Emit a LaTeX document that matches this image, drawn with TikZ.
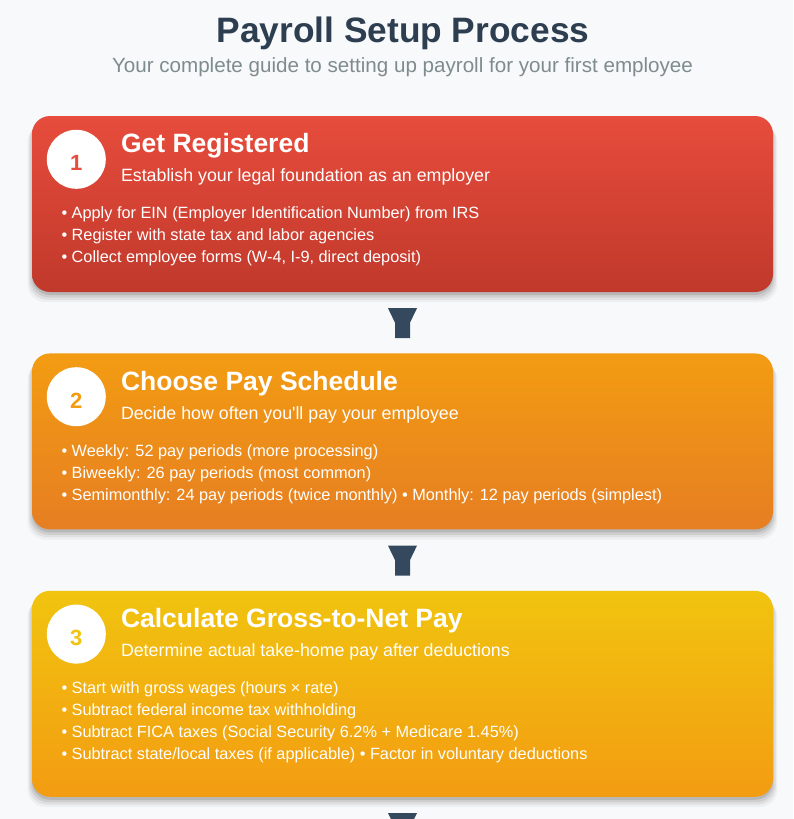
\documentclass[tikz,border=0pt]{standalone}
\usepackage{fontspec}
\setmainfont{Liberation Sans}
\usepackage{tikz}
\usetikzlibrary{positioning,calc,shadows}
\definecolor{pagebg}{HTML}{F8F9FA}
\definecolor{titlec}{HTML}{2C3E50}
\definecolor{subc}{HTML}{7F8C8D}
\definecolor{funnelc}{HTML}{34495E}
\definecolor{redtop}{HTML}{E74C3C}
\definecolor{redbot}{HTML}{C0392B}
\definecolor{orgtop}{HTML}{F39C12}
\definecolor{orgbot}{HTML}{E67E22}
\definecolor{yeltop}{HTML}{F1C40F}
\definecolor{yelbot}{HTML}{F39C12}
\tikzset{
  card/.style={rectangle, rounded corners=18pt, minimum width=741pt, inner sep=0pt,
    drop shadow={shadow xshift=0pt, shadow yshift=-9pt, shadow scale=1.012, opacity=.04, fill=black},
    drop shadow={shadow xshift=0pt, shadow yshift=-7pt, shadow scale=1.008, opacity=.06, fill=black},
    drop shadow={shadow xshift=0pt, shadow yshift=-5pt, shadow scale=1.004, opacity=.08, fill=black},
    drop shadow={shadow xshift=0pt, shadow yshift=-3pt, opacity=.10, fill=black}},
  badge/.style={circle, fill=white, minimum size=59pt, inner sep=0pt},
  funnel/.pic={\fill[funnelc] (-14.5,-14.5) -- (14.5,-14.5) -- (7.5,0) -- (7.5,15.5) -- (-7.5,15.5) -- (-7.5,0) -- cycle;}
}

\begin{document}
\begin{tikzpicture}[
    x=1pt, y=-1pt,
    node distance=61pt,
    head/.style={anchor=base west, inner sep=0pt, text=white, font=\fontsize{26.5}{30}\selectfont\bfseries},
    sub/.style={anchor=base west, inner sep=0pt, text=white, font=\fontsize{17.8}{21}\selectfont},
    item/.style={anchor=base west, inner sep=0pt, text=white, font=\fontsize{16.3}{20}\selectfont},
    num/.style={inner sep=0pt, font=\fontsize{22}{24}\selectfont\bfseries}
]
\fill[pagebg] (0,0) rectangle (793,819);
\useasboundingbox (0,0) rectangle (793,819);
\clip (0,0) rectangle (793,819);

\node[anchor=base, text=titlec, font=\fontsize{35.3}{40}\selectfont\bfseries] (title) at (403,42) {Payroll Setup Process};
\node[anchor=base, text=subc, font=\fontsize{20.6}{24}\selectfont] (subtitle) at (402.5,72) {Your complete guide to setting up payroll for your first employee};

% cards
\node[card, minimum height=176pt, top color=redtop, bottom color=redbot] (reg) at (402.5,204) {};
\node[card, minimum height=176pt, top color=orgtop, bottom color=orgbot, below=of reg] (sched) {};
\node[card, minimum height=206pt, top color=yeltop, bottom color=yelbot, below=of sched] (gross) {};

% step 1
\node[badge] (reg-c) at ($(reg.north west)+(44.5,43.5)$) {};
\node[num, text=redtop] (reg-n) at ($(reg-c)+(0,4)$) {1};
\node[head] (reg-h) at ($(reg.north west)+(89,37)$) {Get Registered};
\node[sub] (reg-s) at ($(reg.north west)+(89,66)$) {Establish your legal foundation as an employer};
\foreach \t [count=\i] in {Apply for EIN (Employer Identification Number) from IRS,
    Register with state tax and labor agencies,
    {Collect employee forms (W-4, I-9, direct deposit)}}
  \node[item] (reg-\i) at ($(reg.north west)+(29.5,81+22*\i)$) {• \t};

% step 2
\node[badge] (sched-c) at ($(sched.north west)+(44.5,43.5)$) {};
\node[num, text=orgtop] (sched-n) at ($(sched-c)+(0,4)$) {2};
\node[head] (sched-h) at ($(sched.north west)+(89,37)$) {Choose Pay Schedule};
\node[sub] (sched-s) at ($(sched.north west)+(89,66)$) {Decide how often you\textquotesingle ll pay your employee};
\foreach \t [count=\i] in {Weekly: 52 pay periods (more processing),
    Biweekly: 26 pay periods (most common),
    Semimonthly: 24 pay periods (twice monthly) • Monthly: 12 pay periods (simplest)}
  \node[item] (sched-\i) at ($(sched.north west)+(29.5,81+22*\i)$) {• \t};

% step 3
\node[badge] (gross-c) at ($(gross.north west)+(44.5,43.5)$) {};
\node[num, text=yeltop] (gross-n) at ($(gross-c)+(0,4)$) {3};
\node[head] (gross-h) at ($(gross.north west)+(89,37)$) {Calculate Gross-to-Net Pay};
\node[sub] (gross-s) at ($(gross.north west)+(89,66)$) {Determine actual take-home pay after deductions};
\foreach \t [count=\i] in {Start with gross wages (hours × rate),
    Subtract federal income tax withholding,
    Subtract FICA taxes (Social Security 6.2\% + Medicare 1.45\%),
    Subtract state/local taxes (if applicable) • Factor in voluntary deductions}
  \node[item] (gross-\i) at ($(gross.north west)+(29.5,81+22*\i)$) {• \t};

% connectors
\pic at ($(reg.south)!0.5!(sched.north)$) {funnel};
\pic at ($(sched.south)!0.5!(gross.north)$) {funnel};
\pic at ($(gross.south)+(0,30.5)$) {funnel};
\end{tikzpicture}
\end{document}
